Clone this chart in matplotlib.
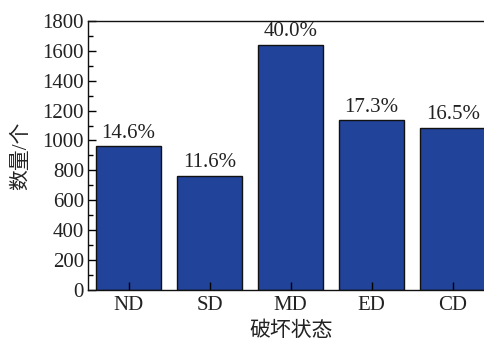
import numpy as np
import matplotlib
matplotlib.use("Agg")
import matplotlib.pyplot as plt
from matplotlib.ticker import MultipleLocator

# data
states = ["ND", "SD", "MD", "ED", "CD"]
counts = [962, 764, 1641, 1137, 1086]
shares = ["14.6%", "11.6%", "40.0%", "17.3%", "16.5%"]

plt.rcParams['font.family'] = ['Liberation Serif', 'Noto Sans CJK SC']
plt.rcParams['text.color'] = '#222222'

fig = plt.figure(figsize=(4.84, 3.42), dpi=100)
ax = fig.add_axes([0.182, 0.152, 0.837, 0.787])

x = np.arange(len(states))
ax.bar(x, counts, width=0.8, color='#22439a', edgecolor='#111111', linewidth=1.0)
for xi, c, s in zip(x, counts, shares):
    ax.annotate(s, (xi, c), xytext=(0, 2.5), textcoords='offset points',
                ha='center', va='bottom', fontsize=15, color='#222222')

ax.set_xlim(-0.5, 4.5)
ax.set_ylim(0, 1800)
ax.set_xticks(x)
ax.set_xticklabels(states)
ax.yaxis.set_major_locator(MultipleLocator(200))
ax.yaxis.set_minor_locator(MultipleLocator(100))
ax.tick_params(axis='both', which='major', direction='in', length=6, width=1,
               labelsize=15, labelcolor='#222222', pad=3)
ax.tick_params(axis='y', which='minor', direction='in', length=3.5, width=1)
ax.tick_params(axis='x', pad=4)

ax.set_xlabel("破坏状态", fontsize=15, labelpad=5, color='#222222')
ax.set_ylabel("数量/个", fontsize=15, labelpad=8, color='#222222')

for sp in ax.spines.values():
    sp.set_linewidth(1.0)
    sp.set_color('#111111')

fig.savefig("out.png", dpi=100)
